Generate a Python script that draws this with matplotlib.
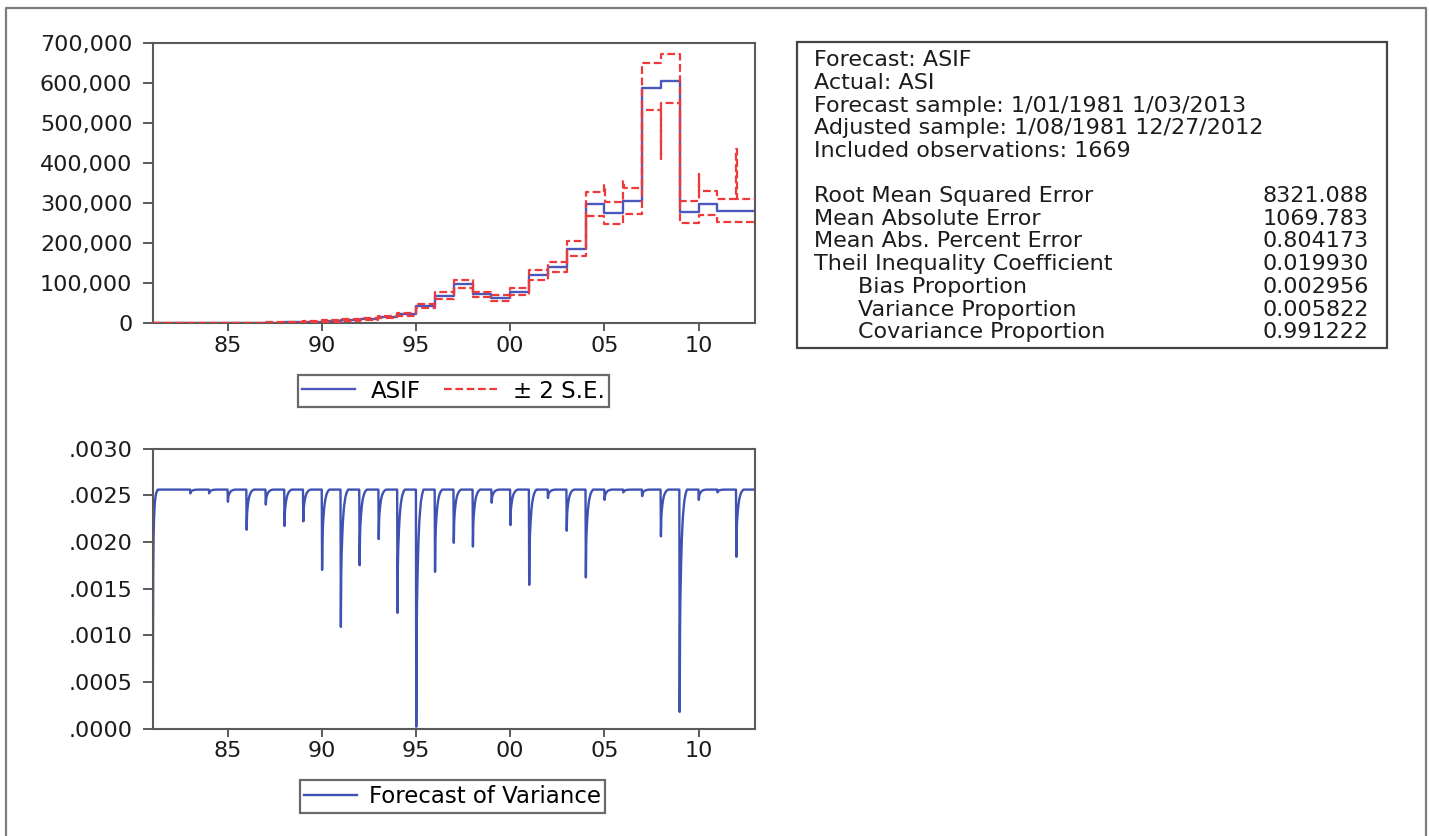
import numpy as np
import matplotlib
matplotlib.use('Agg')
import matplotlib.pyplot as plt
from matplotlib.patches import Rectangle
from matplotlib.lines import Line2D
from matplotlib.ticker import FuncFormatter

plt.rcParams['font.family'] = ['DejaVu Sans']

# ---- top panel: yearly levels of the forecast and its +/- 2 S.E. band ----
years = list(range(1981, 2013))
asif = [400, 500, 600, 700, 800, 1000, 1500, 2500, 3500, 5500, 8500, 11500,
        15000, 22000, 44000, 69000, 97000, 72000, 64000, 78000, 121000, 140000,
        186000, 298000, 275000, 304000, 587000, 605000, 277000, 298000, 281000, 281000]
upper = [500, 600, 700, 800, 1000, 1300, 2300, 3500, 4500, 7000, 10500, 14000,
         18000, 26000, 49000, 79000, 108000, 78000, 70000, 88000, 134000, 152000,
         205000, 327000, 302000, 338000, 649000, 672000, 306000, 330000, 311000, 311000]
lower = [300, 400, 500, 600, 650, 750, 900, 1600, 2500, 4000, 6500, 9000,
         12000, 18000, 39000, 61000, 88000, 65000, 55000, 71000, 108000, 127000,
         168000, 267000, 247000, 273000, 531000, 549000, 250000, 269000, 252000, 252000]
upper_spikes = {2005: 346000, 2006: 354000, 2010: 373000, 2012: 435000}
lower_spikes = {2008: 410000}

# ---- bottom panel: forecast of variance (weekly) ----
n_obs = 1669
plateau = 0.00256
start_values = [0.00052, 0.00165, 0.00204, 0.00222, 0.00232, 0.00239, 0.00244,
                0.00247, 0.00250, 0.00252, 0.00253, 0.00254, 0.00255, 0.00255]
dip_years = list(range(1983, 2013))
dip_min = [0.00252, 0.00252, 0.00243, 0.00213, 0.00240, 0.00217, 0.00222, 0.00170,
           0.00109, 0.00175, 0.00203, 0.00124, 0.00002, 0.00168, 0.00199, 0.00195,
           0.00242, 0.00218, 0.00154, 0.00247, 0.00212, 0.00162, 0.00245, 0.00253,
           0.00249, 0.00206, 0.00018, 0.00245, 0.00253, 0.00184]
# share of the gap to the plateau still left, week by week after a dip
recovery = [1.0, 0.62, 0.48, 0.40, 0.33, 0.27, 0.22, 0.18, 0.15, 0.12, 0.10,
            0.08, 0.065, 0.05, 0.04, 0.03, 0.022, 0.015, 0.01, 0.005, 0.0]

xticks = [1985, 1990, 1995, 2000, 2005, 2010]
xtick_labels = ['85', '90', '95', '00', '05', '10']

info_lines = ['Forecast: ASIF', 'Actual: ASI',
              'Forecast sample: 1/01/1981 1/03/2013',
              'Adjusted sample: 1/08/1981 12/27/2012',
              'Included observations: 1669']
stat_labels = ['Root Mean Squared Error', 'Mean Absolute Error',
               'Mean Abs. Percent Error', 'Theil Inequality Coefficient',
               'Bias Proportion', 'Variance Proportion', 'Covariance Proportion']
stat_values = ['8321.088', '1069.783', '0.804173', '0.019930',
               '0.002956', '0.005822', '0.991222']
stat_indent = [False, False, False, False, True, True, True]

BLUE = '#4a57bd'
BLUE2 = '#3f52b3'
RED = '#f03a3a'
SPINE = '#5a5a5a'
TXT = '#1c1c1c'

W, H = 1429, 836
fig = plt.figure(figsize=(W / 100, H / 100), dpi=100)


def fx(px):
    return px / W


def fy(py):
    return 1 - py / H


def step_points(levels, spikes):
    xs, ys = [], []
    for yr, lv in zip(years, levels):
        if yr in spikes:
            xs += [yr, yr + 0.02]
            ys += [spikes[yr], lv]
        else:
            xs.append(yr)
            ys.append(lv)
    xs.append(2013.0)
    ys.append(levels[-1])
    return xs, ys


def style_axes(ax):
    for s in ax.spines.values():
        s.set_color(SPINE)
        s.set_linewidth(1.5)
    ax.tick_params(axis='both', direction='out', color=SPINE, width=1.4,
                   labelsize=16, labelcolor=TXT, top=False, right=False)
    ax.tick_params(axis='y', length=7.5, pad=7)
    ax.tick_params(axis='x', length=6, pad=3)
    ax.set_xlim(1981.0, 2013.0)
    ax.set_xticks(xticks)
    ax.set_xticklabels(xtick_labels)


# top chart
ax1 = fig.add_axes([fx(152.5), fy(323.3), fx(755) - fx(152.5), fy(42.7) - fy(323.3)])
style_axes(ax1)
xa, ya = step_points(asif, {})
xu, yu = step_points(upper, upper_spikes)
xl, yl = step_points(lower, lower_spikes)
ax1.plot(xa, ya, drawstyle='steps-post', color=BLUE, lw=1.7, label='ASIF', zorder=2)
ax1.plot(xu, yu, drawstyle='steps-post', color=RED, lw=1.6, ls=(0, (3.5, 1.6)),
         label='\u00b1 2 S.E.', zorder=3)
ax1.plot(xl, yl, drawstyle='steps-post', color=RED, lw=1.6, ls=(0, (3.5, 1.6)), zorder=3)
ax1.set_ylim(0, 700000)
ax1.set_yticks(np.arange(0, 700001, 100000))
ax1.yaxis.set_major_formatter(FuncFormatter(lambda v, p: f'{int(v):,}'))

h1, l1 = ax1.get_legend_handles_labels()
leg1 = fig.legend(h1, l1, loc='center', bbox_to_anchor=(fx(453.5), fy(391)), ncol=2,
                  fontsize=16.5, frameon=True, fancybox=False, edgecolor='#444',
                  handlelength=2.3, handletextpad=0.7, columnspacing=1.0,
                  borderpad=0.2, borderaxespad=0)
leg1.get_frame().set_linewidth(1.6)

# bottom chart
t = 1981.0 + 7 / 365.25 + np.arange(n_obs) * 7 / 365.25
var = np.full(n_obs, plateau)
var[:len(start_values)] = start_values
for yr, dm in zip(dip_years, dip_min):
    i0 = int(np.searchsorted(t, yr))
    for k, frac in enumerate(recovery):
        if i0 + k < n_obs:
            var[i0 + k] = plateau - (plateau - dm) * frac

ax2 = fig.add_axes([fx(152.5), fy(728.7), fx(755) - fx(152.5), fy(448.5) - fy(728.7)])
style_axes(ax2)
ax2.plot(t, var, color=BLUE2, lw=1.7, label='Forecast of Variance')
ax2.set_ylim(0, 0.003)
ax2.set_yticks(np.arange(0, 0.00301, 0.0005))
ax2.yaxis.set_major_formatter(FuncFormatter(lambda v, p: f'{v:.4f}'[1:]))

h2, l2 = ax2.get_legend_handles_labels()
leg2 = fig.legend(h2, l2, loc='center', bbox_to_anchor=(fx(452.5), fy(796.5)),
                  fontsize=16.5, frameon=True, fancybox=False, edgecolor='#444',
                  handlelength=2.3, handletextpad=0.5, borderpad=0.2, borderaxespad=0)
leg2.get_frame().set_linewidth(1.6)

# statistics box
fig.patches.append(Rectangle((fx(797), fy(348)), fx(1387) - fx(797), fy(42) - fy(348),
                             transform=fig.transFigure, fill=False,
                             edgecolor='#444', lw=1.6))
for i, s in enumerate(info_lines):
    fig.text(fx(814.5), fy(59.3 + 22.7 * i + 7), s, fontsize=16, color=TXT, va='baseline')
for i, (s, v, ind) in enumerate(zip(stat_labels, stat_values, stat_indent)):
    yy = fy(195 + 22.7 * i + 7)
    fig.text(fx(858 if ind else 814.5), yy, s, fontsize=16, color=TXT, va='baseline')
    fig.text(fx(1369), yy, v, fontsize=16, color=TXT, va='baseline', ha='right')

# outer frame (open at the bottom)
fig.lines.append(Line2D([fx(6), fx(6), fx(1426), fx(1426)], [0, fy(8), fy(8), 0],
                        transform=fig.transFigure, color='#7c7c7c', lw=1.6))

fig.savefig('out.png', dpi=100)
